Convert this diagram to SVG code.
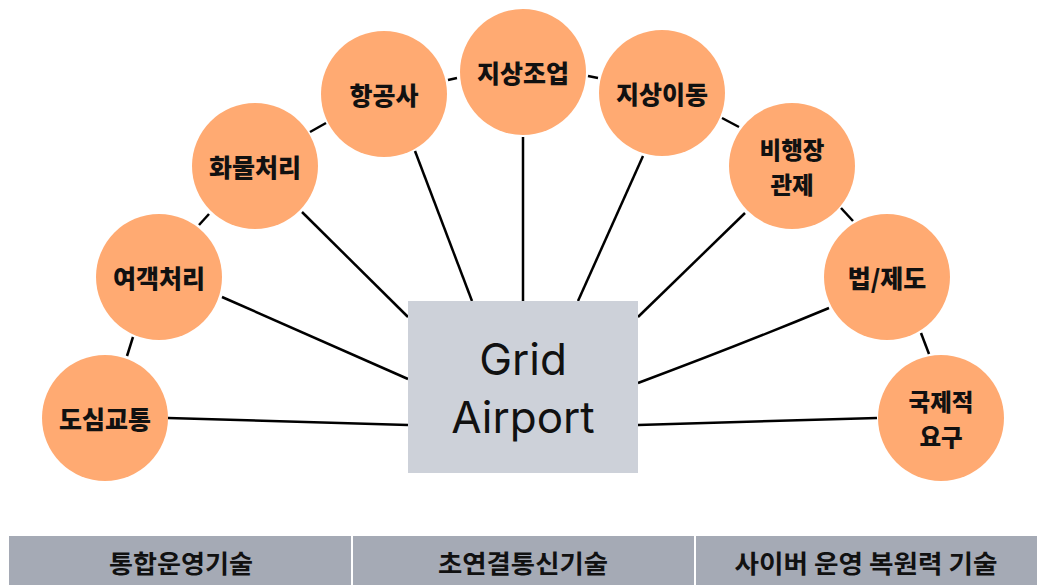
<svg xmlns="http://www.w3.org/2000/svg" width="1043" height="585" viewBox="0 0 1043 585">
<style>
.n{fill:#FFAA72}
.t{font-family:"Noto Sans CJK KR","Noto Sans",sans-serif;font-weight:800;font-size:25px;fill:#111;text-anchor:middle;dominant-baseline:central}
.t2{font-size:23.5px}
.c line,.c path{stroke:#000;stroke-width:2.5;fill:none}
.b{font-family:"Noto Sans CJK KR","Noto Sans",sans-serif;font-weight:bold;font-size:25px;fill:#111;text-anchor:middle;dominant-baseline:central}
</style>
<rect width="1043" height="585" fill="#fff"/>
<g class="c" id="connectors">
<line x1="168" y1="418" x2="408" y2="425"/>
<line x1="222" y1="297" x2="408" y2="379"/>
<line x1="302" y1="212" x2="408" y2="317"/>
<line x1="415" y1="151" x2="472" y2="301"/>
<line x1="523" y1="137" x2="523" y2="301"/>
<line x1="643" y1="156" x2="578" y2="301"/>
<line x1="745" y1="213" x2="638" y2="317"/>
<path d="M829,308 Q740,345 638,383"/>
<line x1="877" y1="418" x2="638" y2="425"/>
<line x1="127" y1="356" x2="133" y2="337"/>
<line x1="199" y1="225" x2="209" y2="214"/>
<line x1="310" y1="132" x2="326" y2="123"/>
<line x1="448" y1="80" x2="457" y2="78"/>
<line x1="588" y1="76" x2="598" y2="78"/>
<line x1="722" y1="118" x2="739" y2="127"/>
<line x1="841" y1="208" x2="853" y2="221"/>
<line x1="921" y1="333" x2="929" y2="354"/>
</g>
<g id="center">
<rect x="408" y="301" width="230" height="172" fill="#CDD1D9"/>
<text x="523" y="375" font-family="Inter,'Liberation Sans',sans-serif" font-size="44" text-anchor="middle" fill="#111">Grid<tspan x="523" y="433">Airport</tspan></text>
</g>
<g id="n1"><circle class="n" cx="105" cy="418" r="63"/><text class="t" x="105" y="418">도심교통</text></g>
<g id="n2"><circle class="n" cx="159" cy="277" r="63"/><text class="t" x="159" y="277">여객처리</text></g>
<g id="n3"><circle class="n" cx="255" cy="166" r="63"/><text class="t" x="255" y="166">화물처리</text></g>
<g id="n4"><circle class="n" cx="384" cy="94" r="63"/><text class="t" x="384" y="94">항공사</text></g>
<g id="n5"><circle class="n" cx="523" cy="72" r="63"/><text class="t" x="523" y="72">지상조업</text></g>
<g id="n6"><circle class="n" cx="662" cy="93" r="63"/><text class="t" x="662" y="93">지상이동</text></g>
<g id="n7"><circle class="n" cx="792" cy="166" r="63"/><text class="t t2" x="792" y="149">비행장<tspan x="792" y="184">관제</tspan></text></g>
<g id="n8"><circle class="n" cx="887" cy="277" r="63"/><text class="t" x="887" y="277">법/제도</text></g>
<g id="n9"><circle class="n" cx="941" cy="418" r="63"/><text class="t t2" x="941" y="401">국제적<tspan x="941" y="436">요구</tspan></text></g>
<g id="bar">
<rect x="9" y="536" width="1028" height="49" fill="#A5AAB5"/>
<line x1="352" y1="536" x2="352" y2="585" stroke="#fff" stroke-width="2"/>
<line x1="695" y1="536" x2="695" y2="585" stroke="#fff" stroke-width="2"/>
<text class="b" x="181" y="562" textLength="144" lengthAdjust="spacingAndGlyphs">통합운영기술</text>
<text class="b" x="523" y="562" textLength="170" lengthAdjust="spacingAndGlyphs">초연결통신기술</text>
<text class="b" x="866" y="562" textLength="263" lengthAdjust="spacingAndGlyphs">사이버 운영 복원력 기술</text>
</g>
</svg>
